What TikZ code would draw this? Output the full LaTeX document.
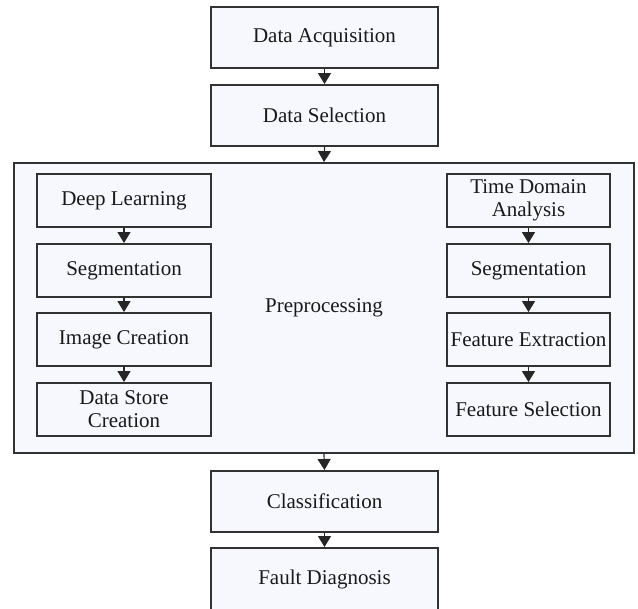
\documentclass[tikz,border=0pt]{standalone}
\usepackage{fontspec}
\setmainfont{Liberation Serif}
\usetikzlibrary{arrows.meta}
\definecolor{boxfill}{RGB}{247,248,253}
\definecolor{edge}{RGB}{50,50,50}
\begin{document}
\begin{tikzpicture}[x=1pt,y=-1pt,
  box/.style={draw=edge,line width=1.3pt,fill=boxfill,inner sep=0pt,align=center,
    font=\fontsize{21}{23}\selectfont,text=black!90},
  flow/.style={draw=black!85,line width=1.2pt,-{Triangle[length=11pt,width=13pt]},shorten >=0.3pt}]
\useasboundingbox (0,0) rectangle (638,609);
\node[box,minimum width=227pt,minimum height=61pt] (acq) at (324.5,37.5) {Data Acquisition};
\node[box,minimum width=227pt,minimum height=61pt] (sel) at (324.5,115.5) {Data Selection};
\node[box,minimum width=620pt,minimum height=290pt] (pre) at (324,308) {Preprocessing};
\node[box,minimum width=227pt,minimum height=61pt] (cls) at (324.5,501.5) {Classification};
\node[box,minimum width=227pt,minimum height=62pt] (fd) at (324.5,579) {Fault Diagnosis};
% left column
\node[box,minimum width=174pt,minimum height=53pt] (l1) at (124,200.5) {Deep Learning};
\node[box,minimum width=174pt,minimum height=53pt] (l2) at (124,270.5) {Segmentation};
\node[box,minimum width=174pt,minimum height=53pt] (l3) at (124,339.5) {Image Creation};
\node[box,minimum width=174pt,minimum height=53pt] (l4) at (124,409.5) {Data Store\\Creation};
% right column
\node[box,minimum width=163pt,minimum height=53pt] (r1) at (528.5,200.5) {Time Domain\\Analysis};
\node[box,minimum width=163pt,minimum height=53pt] (r2) at (528.5,270.5) {Segmentation};
\node[box,minimum width=163pt,minimum height=53pt] (r3) at (528.5,339.5) {Feature Extraction};
\node[box,minimum width=163pt,minimum height=53pt] (r4) at (528.5,409.5) {Feature Selection};
% connectors
\draw[flow] (acq.south) -- (sel.north);
\draw[flow] (sel.south) -- (pre.north);
\draw[flow] (pre.south) -- (cls.north);
\draw[flow] (cls.south) -- (fd.north);
\draw[flow] (l1.south) -- (l2.north);
\draw[flow] (l2.south) -- (l3.north);
\draw[flow] (l3.south) -- (l4.north);
\draw[flow] (r1.south) -- (r2.north);
\draw[flow] (r2.south) -- (r3.north);
\draw[flow] (r3.south) -- (r4.north);
\end{tikzpicture}
\end{document}
